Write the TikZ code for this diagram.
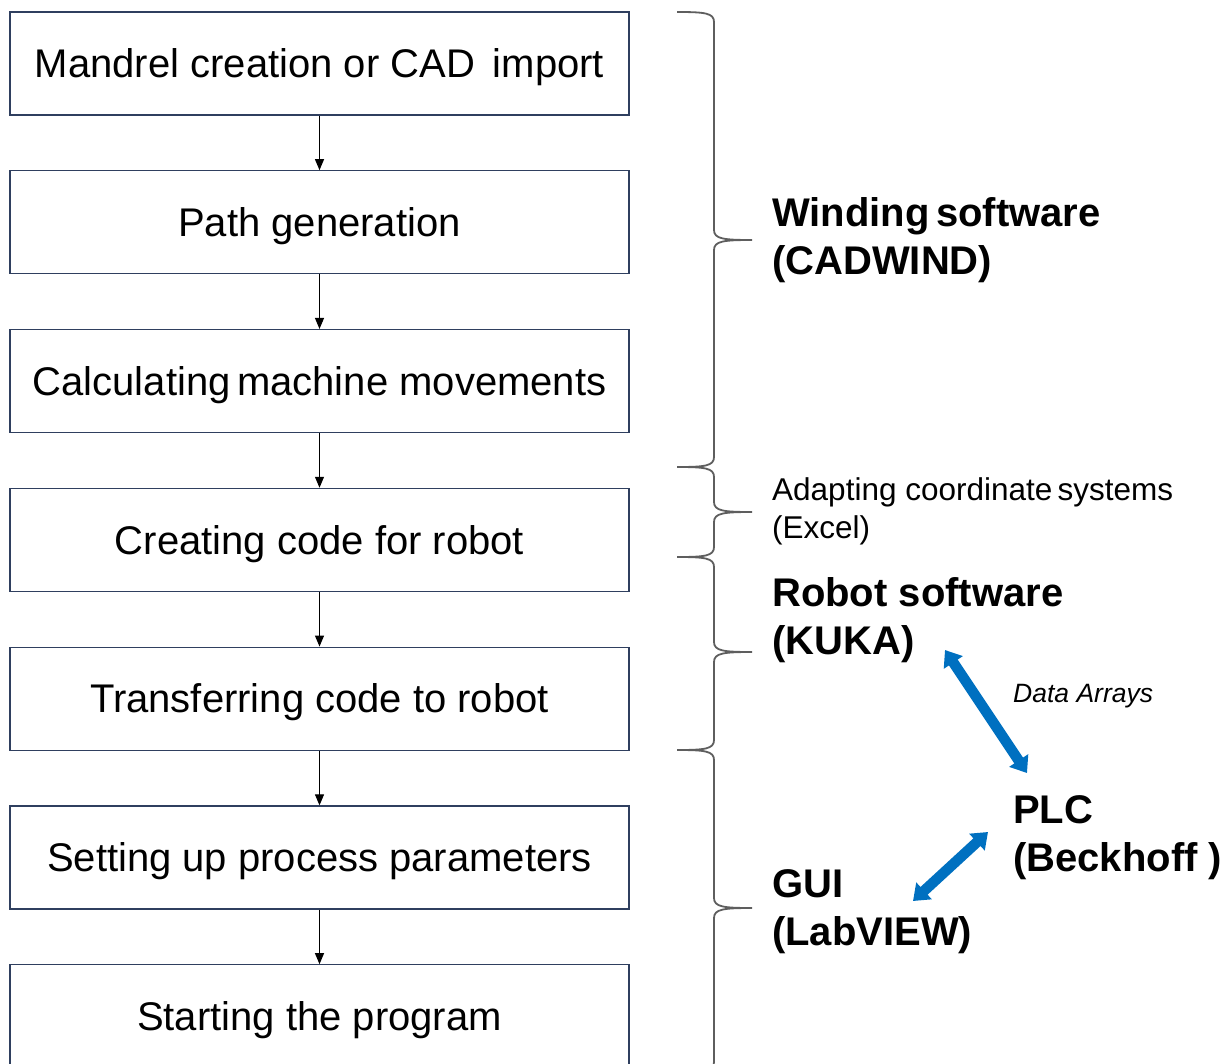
\documentclass[tikz,border=0pt]{standalone}
\usepackage{fontspec}
\setmainfont{Liberation Sans}
\usetikzlibrary{positioning,arrows.meta}
\definecolor{boxline}{HTML}{2F3F5F}
\definecolor{linkblue}{HTML}{0070C0}
\definecolor{bracegray}{HTML}{5E5E5E}

\begin{document}
\begin{tikzpicture}[x=1pt,y=-1pt,
    stepbox/.style={draw=boxline, line width=1.3pt, minimum width=619pt, minimum height=103pt,
        inner sep=0pt, text height=28.5pt, text depth=0pt, font=\fontsize{40}{46}\selectfont},
    flow/.style={-{Triangle[length=11pt,width=9pt]}, line width=1.1pt},
    groupname/.style={anchor=west, align=left, inner sep=0pt, font=\fontsize{40}{48}\selectfont\bfseries},
    bracepath/.style={draw=bracegray, line width=1.8pt},
    datalink/.style={draw=linkblue, line width=10.5pt, {Triangle[length=15pt,width=22pt]}-{Triangle[length=15pt,width=22pt]}}
    ]
        \useasboundingbox (0,0) rectangle (1229,1063);
        % process steps
        \node[stepbox] (mandrel) at (319.5,63.5) {Mandrel creation or CAD\,\ import};
        \node[stepbox, below=54.5pt of mandrel] (path) {Path generation};
        \node[stepbox, below=54.5pt of path] (machine) {Calculating\,machine movements};
        \node[stepbox, below=54.5pt of machine] (code) {Creating code for robot};
        \node[stepbox, below=54.5pt of code] (transfer) {Transferring code to robot};
        \node[stepbox, below=54.5pt of transfer] (params) {Setting up process parameters};
        \node[stepbox, below=54.5pt of params] (start) {Starting the program};
        \draw[flow] (mandrel) -- (path);
        \draw[flow] (path) -- (machine);
        \draw[flow] (machine) -- (code);
        \draw[flow] (code) -- (transfer);
        \draw[flow] (transfer) -- (params);
        \draw[flow] (params) -- (start);
        % braces
        \foreach \a/\m/\b in {12/240/467, 467/512/557, 557/652/750, 750/908/1072} {
                \draw[bracepath] (677,\a) .. controls (705,\a) and (714,\a+1) .. (714,\a+10)
                    -- (714,\m-10) .. controls (714,\m-1) and (724,\m) .. (752,\m)
                    .. controls (724,\m) and (714,\m+1) .. (714,\m+10)
                    -- (714,\b-10) .. controls (714,\b-1) and (705,\b) .. (677,\b);
            }
        % software labels
        \node[groupname] (cadwind) at (772,240) {Winding\,software\\(CADWIND)};
        \node[anchor=west, align=left, inner sep=0pt, font=\fontsize{31.5}{38}\selectfont] (excel) at (772,511)
            {Adapting coordinate\,systems\\(Excel)};
        \node[groupname] (kuka) at (772,620) {Robot software\\(KUKA)};
        \node[groupname] (beckhoff) at (1013,838) {PLC\\(Beckhoff )};
        \node[groupname] (labview) at (772,912) {GUI\\(LabVIEW)};
        \node[anchor=west, inner sep=0pt, font=\fontsize{26.5}{30}\selectfont\itshape] (arrays) at (1013,696) {Data Arrays};
        % data links
        \coordinate (kukaend) at (945,650);
        \coordinate (plctop) at (1027,773);
        \coordinate (plcleft) at (988,832);
        \coordinate (guiend) at (913,901);
        \draw[datalink] (kukaend) -- (plctop);
        \draw[datalink] (plcleft) -- (guiend);
    \end{tikzpicture}
\end{document}
